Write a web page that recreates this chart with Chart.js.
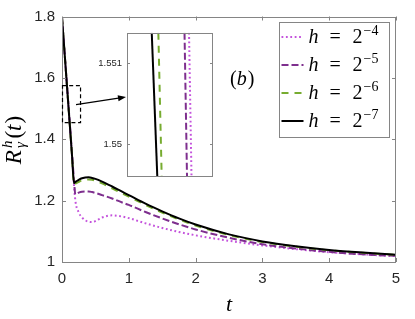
<!DOCTYPE html>
<html>
<head>
<meta charset="utf-8">
<script src="https://cdn.jsdelivr.net/npm/chart.js@4.4.0/dist/chart.umd.min.js"></script>
<style>
  html, body { margin: 0; padding: 0; background: #fff; }
  #wrap { position: relative; width: 415px; height: 319px; }
  #main { position: absolute; left: 0; top: 0; }
  #inset { position: absolute; left: 95px; top: 22px; }
</style>
</head>
<body>
<div id="wrap">
  <canvas id="main" width="415" height="319"></canvas>
  <canvas id="inset" width="125" height="165"></canvas>
</div>
<script>
// time grid shared by the four curves
const tValues = [0, 0.09, 0.15, 0.18, 0.2, 0.25, 0.3, 0.4, 0.45, 0.5, 0.6, 0.75, 0.9, 1,
  1.25, 1.5, 1.75, 2, 2.5, 3, 3.5, 4, 4.5, 5];

// R^h_gamma(t) for h = 2^-4 ... 2^-7
const rH4 = [1.797, 1.527, 1.345, 1.250, 1.200, 1.162, 1.145, 1.131, 1.130, 1.133, 1.145, 1.152, 1.148, 1.143,
  1.126, 1.111, 1.098, 1.087, 1.069, 1.054, 1.042, 1.032, 1.025, 1.019];
const rH5 = [1.797, 1.531, 1.354, 1.265, 1.221, 1.226, 1.229, 1.230, 1.228, 1.225, 1.218, 1.207, 1.194, 1.186,
  1.163, 1.142, 1.123, 1.106, 1.079, 1.058, 1.044, 1.033, 1.025, 1.020];
const rH6 = [1.797, 1.527, 1.345, 1.252, 1.255, 1.261, 1.266, 1.269, 1.268, 1.265, 1.256, 1.240, 1.224, 1.213,
  1.186, 1.161, 1.139, 1.119, 1.088, 1.065, 1.050, 1.038, 1.030, 1.023];
const rH7 = [1.797, 1.527, 1.347, 1.257, 1.261, 1.268, 1.273, 1.276, 1.274, 1.271, 1.262, 1.246, 1.229, 1.218,
  1.190, 1.165, 1.142, 1.122, 1.090, 1.067, 1.051, 1.039, 1.031, 1.024];

const hExponents = ['4', '5', '6', '7'];

const xTicks = [0, 1, 2, 3, 4, 5];
const yTicks = [1, 1.2, 1.4, 1.6, 1.8];
const yTickLabels = ['1', '1.2', '1.4', '1.6', '1.8'];

// zoomed window near R = 1.55
const insetR = [1.55138, 1.5496];
const insetT4 = [0.08349, 0.08375];
const insetT5 = [0.08302, 0.08328];
const insetT6 = [0.08028, 0.08063];
const insetT7 = [0.07959, 0.08017];
const insetYTicks = [1.55, 1.551];
const insetYTickLabels = ['1.55', '1.551'];

const AXIS = '#858585';
const TICK_TEXT = '#262626';
const STYLES = [
  { color: '#c452dc', width: 2, dash: [1.8, 2.6] },
  { color: '#7e2f8e', width: 2, dash: [7, 3] },
  { color: '#77ac30', width: 2, dash: [7, 6] },
  { color: '#000000', width: 2, dash: [] },
];
const MATH = '"Liberation Serif", "DejaVu Serif", serif';

function boxTicks(chart, xList, yList, len) {
  const { ctx, chartArea: a, scales } = chart;
  ctx.save();
  ctx.strokeStyle = AXIS;
  ctx.lineWidth = 1;
  ctx.strokeRect(Math.round(a.left) + 0.5, Math.round(a.top) + 0.5,
    Math.round(a.right - a.left) - 1, Math.round(a.bottom - a.top) - 1);
  ctx.beginPath();
  xList.forEach(v => {
    const px = Math.round(scales.x.getPixelForValue(v)) + 0.5;
    ctx.moveTo(px, a.bottom); ctx.lineTo(px, a.bottom - len);
    ctx.moveTo(px, a.top); ctx.lineTo(px, a.top + len);
  });
  yList.forEach(v => {
    const py = Math.round(scales.y.getPixelForValue(v)) + 0.5;
    ctx.moveTo(a.left, py); ctx.lineTo(a.left + len, py);
    ctx.moveTo(a.right, py); ctx.lineTo(a.right - len, py);
  });
  ctx.stroke();
  ctx.restore();
}

function drawLegend(ctx) {
  const L = 279.5, T = 22.5, W = 110, H = 115;
  ctx.save();
  ctx.fillStyle = '#fff';
  ctx.fillRect(L, T, W, H);
  ctx.strokeStyle = AXIS;
  ctx.lineWidth = 1;
  ctx.strokeRect(L, T, W, H);
  hExponents.forEach((e, i) => {
    const cy = 37 + i * 28;
    const st = STYLES[i];
    ctx.save();
    ctx.strokeStyle = st.color;
    ctx.lineWidth = st.width;
    ctx.setLineDash(st.dash);
    ctx.beginPath();
    ctx.moveTo(L + 2, cy);
    ctx.lineTo(L + 24, cy);
    ctx.stroke();
    ctx.restore();
    const base = cy + 6;
    ctx.fillStyle = '#000';
    ctx.textBaseline = 'alphabetic';
    ctx.textAlign = 'left';
    ctx.font = 'italic 20px ' + MATH;
    ctx.fillText('h', L + 29, base);
    ctx.font = '20px ' + MATH;
    ctx.fillText('=', L + 50, base);
    ctx.fillText('2', L + 73, base);
    ctx.font = '14px ' + MATH;
    ctx.fillText('\u2212' + e, L + 84, base - 8);
  });
  ctx.restore();
}

function drawLabels(ctx, chart) {
  const a = chart.chartArea;
  ctx.save();
  ctx.fillStyle = '#000';
  ctx.textBaseline = 'alphabetic';
  // x label
  ctx.font = 'italic 22px ' + MATH;
  ctx.textAlign = 'center';
  ctx.fillText('t', (a.left + a.right) / 2, 311);
  // (b)
  ctx.textAlign = 'left';
  ctx.font = '20px ' + MATH;
  let x = 230;
  ctx.fillText('(', x, 85); x += ctx.measureText('(').width;
  ctx.font = 'italic 20px ' + MATH;
  ctx.fillText('b', x, 85); x += ctx.measureText('b').width + 1;
  ctx.font = '20px ' + MATH;
  ctx.fillText(')', x, 85);
  // y label  R^h_gamma(t)
  ctx.translate(21, 140);
  ctx.rotate(-Math.PI / 2);
  const big = 23, small = 15;
  ctx.font = 'italic ' + big + 'px ' + MATH; const wR = ctx.measureText('R').width;
  ctx.font = 'italic ' + small + 'px ' + MATH;
  const wS = Math.max(ctx.measureText('h').width, ctx.measureText('\u03b3').width);
  ctx.font = big + 'px ' + MATH; const wP = ctx.measureText('(').width;
  ctx.font = 'italic ' + big + 'px ' + MATH; const wT = ctx.measureText('t').width;
  const total = wR + 2 + wS + 2 + wP * 2 + wT + 1;
  let p = -total / 2;
  ctx.font = 'italic ' + big + 'px ' + MATH; ctx.fillText('R', p, 0); p += wR + 2;
  ctx.font = 'italic ' + small + 'px ' + MATH;
  ctx.fillText('h', p, -9);
  ctx.fillText('\u03b3', p, 4);
  p += wS + 2;
  ctx.font = big + 'px ' + MATH; ctx.fillText('(', p, 0); p += wP;
  ctx.font = 'italic ' + big + 'px ' + MATH; ctx.fillText('t', p, 0); p += wT + 1;
  ctx.font = big + 'px ' + MATH; ctx.fillText(')', p, 0);
  ctx.restore();
}

const mainDecor = {
  id: 'mainDecor',
  afterDraw(chart) {
    const { ctx, scales } = chart;
    boxTicks(chart, xTicks, yTicks, 4);
    // dashed zoom box and arrow to the inset
    const bx0 = scales.x.getPixelForValue(0), bx1 = scales.x.getPixelForValue(0.27);
    const by0 = scales.y.getPixelForValue(1.575), by1 = scales.y.getPixelForValue(1.454);
    ctx.save();
    ctx.strokeStyle = '#000';
    ctx.lineWidth = 1.2;
    ctx.setLineDash([4, 2.7]);
    ctx.strokeRect(bx0 + 0.5, by0, bx1 - bx0, by1 - by0);
    ctx.setLineDash([]);
    const ax0 = scales.x.getPixelForValue(0.21), ay0 = scales.y.getPixelForValue(1.513);
    const ax1 = 126, ay1 = 97;
    const ang = Math.atan2(ay1 - ay0, ax1 - ax0);
    ctx.lineWidth = 1.2;
    ctx.beginPath();
    ctx.moveTo(ax0, ay0);
    ctx.lineTo(ax1 - 6 * Math.cos(ang), ay1 - 6 * Math.sin(ang));
    ctx.stroke();
    ctx.fillStyle = '#000';
    ctx.beginPath();
    ctx.moveTo(ax1, ay1);
    ctx.lineTo(ax1 - 8 * Math.cos(ang) + 3 * Math.sin(ang), ay1 - 8 * Math.sin(ang) - 3 * Math.cos(ang));
    ctx.lineTo(ax1 - 8 * Math.cos(ang) - 3 * Math.sin(ang), ay1 - 8 * Math.sin(ang) + 3 * Math.cos(ang));
    ctx.closePath();
    ctx.fill();
    ctx.restore();
    drawLegend(ctx);
    drawLabels(ctx, chart);
  }
};

const mainSeries = [rH4, rH5, rH6, rH7];

new Chart(document.getElementById('main'), {
  type: 'line',
  data: {
    datasets: mainSeries.map((vals, i) => ({
      label: 'h = 2^-' + hExponents[i],
      data: tValues.map((t, k) => ({ x: t, y: vals[k] })),
      borderColor: STYLES[i].color,
      borderWidth: STYLES[i].width,
      borderDash: STYLES[i].dash,
      pointRadius: 0,
      fill: false,
      cubicInterpolationMode: 'monotone',
      order: 3 - i,
    })),
  },
  options: {
    responsive: false,
    animation: false,
    devicePixelRatio: 1,
    layout: { padding: { top: 16.5, right: 19, left: 0, bottom: 0 } },
    plugins: { legend: { display: false }, tooltip: { enabled: false } },
    scales: {
      x: {
        type: 'linear', min: 0, max: 5,
        afterBuildTicks: (s) => { s.ticks = xTicks.map(v => ({ value: v })); },
        afterFit: (s) => { s.height = 57; },
        grid: { display: false, drawTicks: false },
        border: { display: false },
        ticks: {
          font: { family: 'Liberation Sans', size: 15 }, color: TICK_TEXT,
          padding: 8, maxRotation: 0, autoSkip: false,
          callback: (v) => String(v),
        },
      },
      y: {
        type: 'linear', min: 1, max: 1.8,
        afterBuildTicks: (s) => { s.ticks = yTicks.map(v => ({ value: v })); },
        afterFit: (s) => { s.width = 62; },
        grid: { display: false, drawTicks: false },
        border: { display: false },
        ticks: {
          font: { family: 'Liberation Sans', size: 15 }, color: TICK_TEXT,
          padding: 7, autoSkip: false,
          callback: (v, i) => yTickLabels[i],
        },
      },
    },
  },
  plugins: [mainDecor],
});

const insetDecor = {
  id: 'insetDecor',
  beforeDatasetsDraw(chart) {
    const { ctx, chartArea: a } = chart;
    ctx.save();
    ctx.fillStyle = '#fff';
    ctx.fillRect(a.left, a.top, a.right - a.left, a.bottom - a.top);
    ctx.restore();
  },
  afterDraw(chart) {
    boxTicks(chart, [], insetYTicks, 3);
  }
};

const insetSeries = [insetT4, insetT5, insetT6, insetT7];

new Chart(document.getElementById('inset'), {
  type: 'line',
  data: {
    datasets: insetSeries.map((ts, i) => ({
      label: 'h = 2^-' + hExponents[i],
      data: ts.map((t, k) => ({ x: t, y: insetR[k] })),
      borderColor: STYLES[i].color,
      borderWidth: STYLES[i].width,
      borderDash: STYLES[i].dash,
      pointRadius: 0,
      fill: false,
      order: 3 - i,
    })),
  },
  options: {
    responsive: false,
    animation: false,
    devicePixelRatio: 1,
    layout: { padding: { top: 8, right: 7, left: 0, bottom: 9 } },
    plugins: { legend: { display: false }, tooltip: { enabled: false } },
    scales: {
      x: { type: 'linear', min: 0.077, max: 0.086, display: false },
      y: {
        type: 'linear', min: 1.5496, max: 1.55138,
        afterBuildTicks: (s) => { s.ticks = insetYTicks.map(v => ({ value: v })); },
        afterFit: (s) => { s.width = 32; },
        grid: { display: false, drawTicks: false },
        border: { display: false },
        ticks: {
          font: { family: 'Liberation Sans', size: 9.5 }, color: TICK_TEXT,
          padding: 5, autoSkip: false,
          callback: (v, i) => insetYTickLabels[i],
        },
      },
    },
  },
  plugins: [insetDecor],
});
</script>
</body>
</html>
